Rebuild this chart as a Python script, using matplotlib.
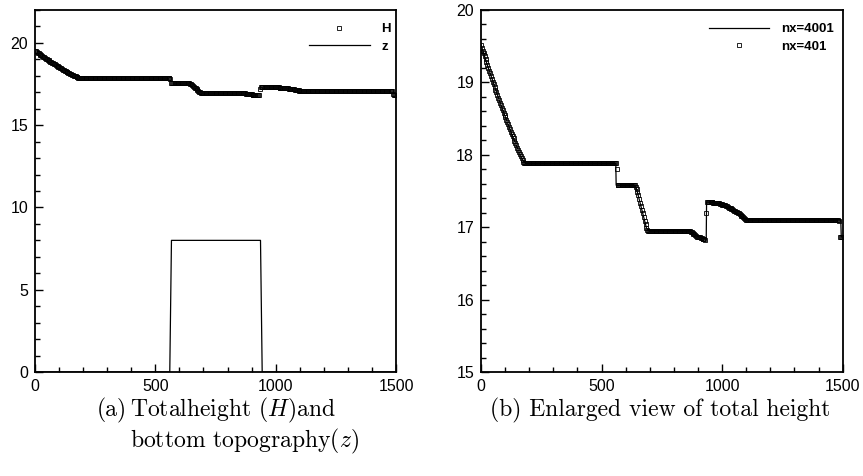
import numpy as np
import matplotlib.pyplot as plt
from matplotlib.ticker import MultipleLocator

plt.rcParams['font.family'] = ['Liberation Sans', 'DejaVu Sans']
plt.rcParams['mathtext.fontset'] = 'cm'

# total height H on the coarse mesh (nx=401)
h401 = [
    19.52, 19.48, 19.44, 19.40, 19.36, 19.32, 19.28, 19.24, 19.20, 19.16,
    19.13, 19.09, 19.05, 19.01, 18.98, 18.94, 18.90, 18.87, 18.83, 18.79,
    18.76, 18.72, 18.69, 18.65, 18.62, 18.58, 18.55, 18.52, 18.48, 18.45,
    18.42, 18.38, 18.35, 18.32, 18.29, 18.26, 18.23, 18.19, 18.16, 18.13,
    18.10, 18.07, 18.04, 18.01, 17.98, 17.96, 17.93, 17.90, 17.89,
    17.88, 17.88, 17.88, 17.88, 17.88, 17.88, 17.88, 17.88, 17.88, 17.88,
    17.88, 17.88, 17.88, 17.88, 17.88, 17.88, 17.88, 17.88, 17.88, 17.88,
    17.88, 17.88, 17.88, 17.88, 17.88, 17.88, 17.88, 17.88, 17.88, 17.88,
    17.88, 17.88, 17.88, 17.88, 17.88, 17.88, 17.88, 17.88, 17.88, 17.88,
    17.88, 17.88, 17.88, 17.88, 17.88, 17.88, 17.88, 17.88, 17.88, 17.88,
    17.88, 17.88, 17.88, 17.88, 17.88, 17.88, 17.88, 17.88, 17.88, 17.88,
    17.88, 17.88, 17.88, 17.88, 17.88, 17.88, 17.88, 17.88, 17.88, 17.88,
    17.88, 17.88, 17.88, 17.88, 17.88, 17.88, 17.88, 17.88, 17.88, 17.88,
    17.88, 17.88, 17.88, 17.88, 17.88, 17.88, 17.88, 17.88, 17.88, 17.88,
    17.88, 17.88, 17.88, 17.88, 17.88, 17.88, 17.88, 17.88, 17.88, 17.88,
    17.88,
    17.80,
    17.58, 17.58, 17.58, 17.58, 17.58, 17.58, 17.58, 17.58, 17.58, 17.58,
    17.58, 17.58, 17.58, 17.58, 17.58, 17.58, 17.58, 17.58, 17.58,
    17.58, 17.56, 17.53, 17.49, 17.44, 17.39, 17.34, 17.29, 17.24, 17.19,
    17.14, 17.09, 17.04, 16.99, 16.96,
    16.95, 16.95, 16.95, 16.95, 16.95, 16.95, 16.95, 16.95, 16.95, 16.95,
    16.95, 16.95, 16.95, 16.95, 16.95, 16.95, 16.95, 16.95, 16.95, 16.95,
    16.95, 16.95, 16.95, 16.95, 16.95, 16.95, 16.95, 16.95, 16.95, 16.95,
    16.95, 16.95, 16.95, 16.95, 16.95, 16.95, 16.95, 16.95, 16.95, 16.95,
    16.95, 16.95, 16.95, 16.95, 16.95, 16.95,
    16.95, 16.94, 16.93, 16.92, 16.91, 16.90, 16.89, 16.88, 16.87, 16.87,
    16.86, 16.86, 16.85, 16.85, 16.84, 16.84, 16.84, 16.83,
    17.20,
    17.35, 17.35, 17.35, 17.35, 17.35, 17.35, 17.35, 17.34, 17.34, 17.34,
    17.34, 17.33, 17.33, 17.33, 17.32, 17.32, 17.32, 17.31, 17.31, 17.30,
    17.30, 17.29, 17.29, 17.28, 17.27, 17.27, 17.26, 17.25, 17.25, 17.24,
    17.23, 17.22, 17.21, 17.21, 17.20, 17.19, 17.18, 17.17, 17.16, 17.15,
    17.14, 17.13, 17.12, 17.10,
    17.10, 17.10, 17.10, 17.10, 17.10, 17.10, 17.10, 17.10, 17.10, 17.10,
    17.10, 17.10, 17.10, 17.10, 17.10, 17.10, 17.10, 17.10, 17.10, 17.10,
    17.10, 17.10, 17.10, 17.10, 17.10, 17.10, 17.10, 17.10, 17.10, 17.10,
    17.10, 17.10, 17.10, 17.10, 17.10, 17.10, 17.10, 17.10, 17.10, 17.10,
    17.10, 17.10, 17.10, 17.10, 17.10, 17.10, 17.10, 17.10, 17.10, 17.10,
    17.10, 17.10, 17.10, 17.10, 17.10, 17.10, 17.10, 17.10, 17.10, 17.10,
    17.10, 17.10, 17.10, 17.10, 17.10, 17.10, 17.10, 17.10, 17.10, 17.10,
    17.10, 17.10, 17.10, 17.10, 17.10, 17.10, 17.10, 17.10, 17.10, 17.10,
    17.10, 17.10, 17.10, 17.10, 17.10, 17.10, 17.10, 17.10, 17.10, 17.10,
    17.10, 17.10, 17.10, 17.10, 17.10, 17.10, 17.10, 17.10, 17.10, 17.10,
    17.10, 17.10,
    17.08, 16.87, 16.86, 16.86, 16.86,
]
# uniform mesh of the coarse run
x401 = np.linspace(0, 1500, len(h401))

# fine run (nx=4001), vertices
x4001 = [0, 25, 50, 75, 100, 125, 150, 165, 175, 185, 559, 560.5, 637, 645,
         686, 694, 866, 880, 900, 934, 935.5, 960, 990, 1020, 1050, 1080,
         1100, 1492, 1494, 1500]
h4001 = [19.52, 19.25, 19.01, 18.76, 18.53, 18.31, 18.10, 17.99, 17.92, 17.88,
         17.88, 17.58, 17.58, 17.53, 16.99, 16.95, 16.95, 16.91, 16.87, 16.83,
         17.35, 17.34, 17.32, 17.28, 17.22, 17.15, 17.10, 17.10, 16.87, 16.86]

# bottom topography
xz = [0, 560, 567, 937, 944, 1500]
zb = [0, 0, 8, 8, 0, 0]

fig = plt.figure(figsize=(8.63, 4.76), dpi=100)
W, H = 863, 476
ax1 = fig.add_axes([35 / W, 104 / H, 361 / W, 362 / H])
ax2 = fig.add_axes([481 / W, 104 / H, 361.7 / W, 362 / H])

mk = dict(marker='s', mfc='none', mec='black', mew=0.6, ls='none')

# (a) total height and bottom
ax1.plot(x401, h401, label='H', ms=3.4, **mk)
ax1.plot(xz, zb, color='black', lw=0.9, label='z')
ax1.set_xlim(0, 1500)
ax1.set_ylim(0, 22)
ax1.xaxis.set_major_locator(MultipleLocator(500))
ax1.xaxis.set_minor_locator(MultipleLocator(100))
ax1.yaxis.set_major_locator(MultipleLocator(5))
ax1.yaxis.set_minor_locator(MultipleLocator(1))

# (b) zoom on the total height
ax2.plot(x4001, h4001, color='black', lw=0.9, label='nx=4001')
ax2.plot(x401, h401, label='nx=401', ms=3.0, **mk)
ax2.set_xlim(0, 1500)
ax2.set_ylim(15, 20)
ax2.xaxis.set_major_locator(MultipleLocator(500))
ax2.xaxis.set_minor_locator(MultipleLocator(100))
ax2.yaxis.set_major_locator(MultipleLocator(1))
ax2.yaxis.set_minor_locator(MultipleLocator(0.2))

for ax, lx in [(ax1, 0.986), (ax2, 0.976)]:
    for s in ax.spines.values():
        s.set_linewidth(1.3)
    ax.tick_params(which='both', direction='in', width=1, labelsize=11.5, pad=5)
    ax.tick_params(which='major', length=6)
    ax.tick_params(which='minor', length=3.5)
    leg = ax.legend(loc='upper right', bbox_to_anchor=(lx, 0.964), frameon=False,
                    prop=dict(weight='bold', size=9.5), handlelength=4.6,
                    handletextpad=0.9, borderpad=0, borderaxespad=0,
                    labelspacing=0.4, numpoints=1)
    for h in leg.legend_handles:
        h.set_markersize(2.8)

# sub captions
cap = dict(family='cmr10', fontsize=17, va='baseline')
y1, y2 = 1 - 416 / H, 1 - 447 / H
fig.text(96.7 / W, y1, '(a)', **cap)
fig.text(130 / W, y1, r'Totalheight $(H)$and', **cap)
fig.text(130 / W, y2, r'bottom topography$(z)$', **cap)
fig.text(490 / W, y1, '(b) Enlarged view of total height', **cap)

fig.savefig('out.png', dpi=100)
